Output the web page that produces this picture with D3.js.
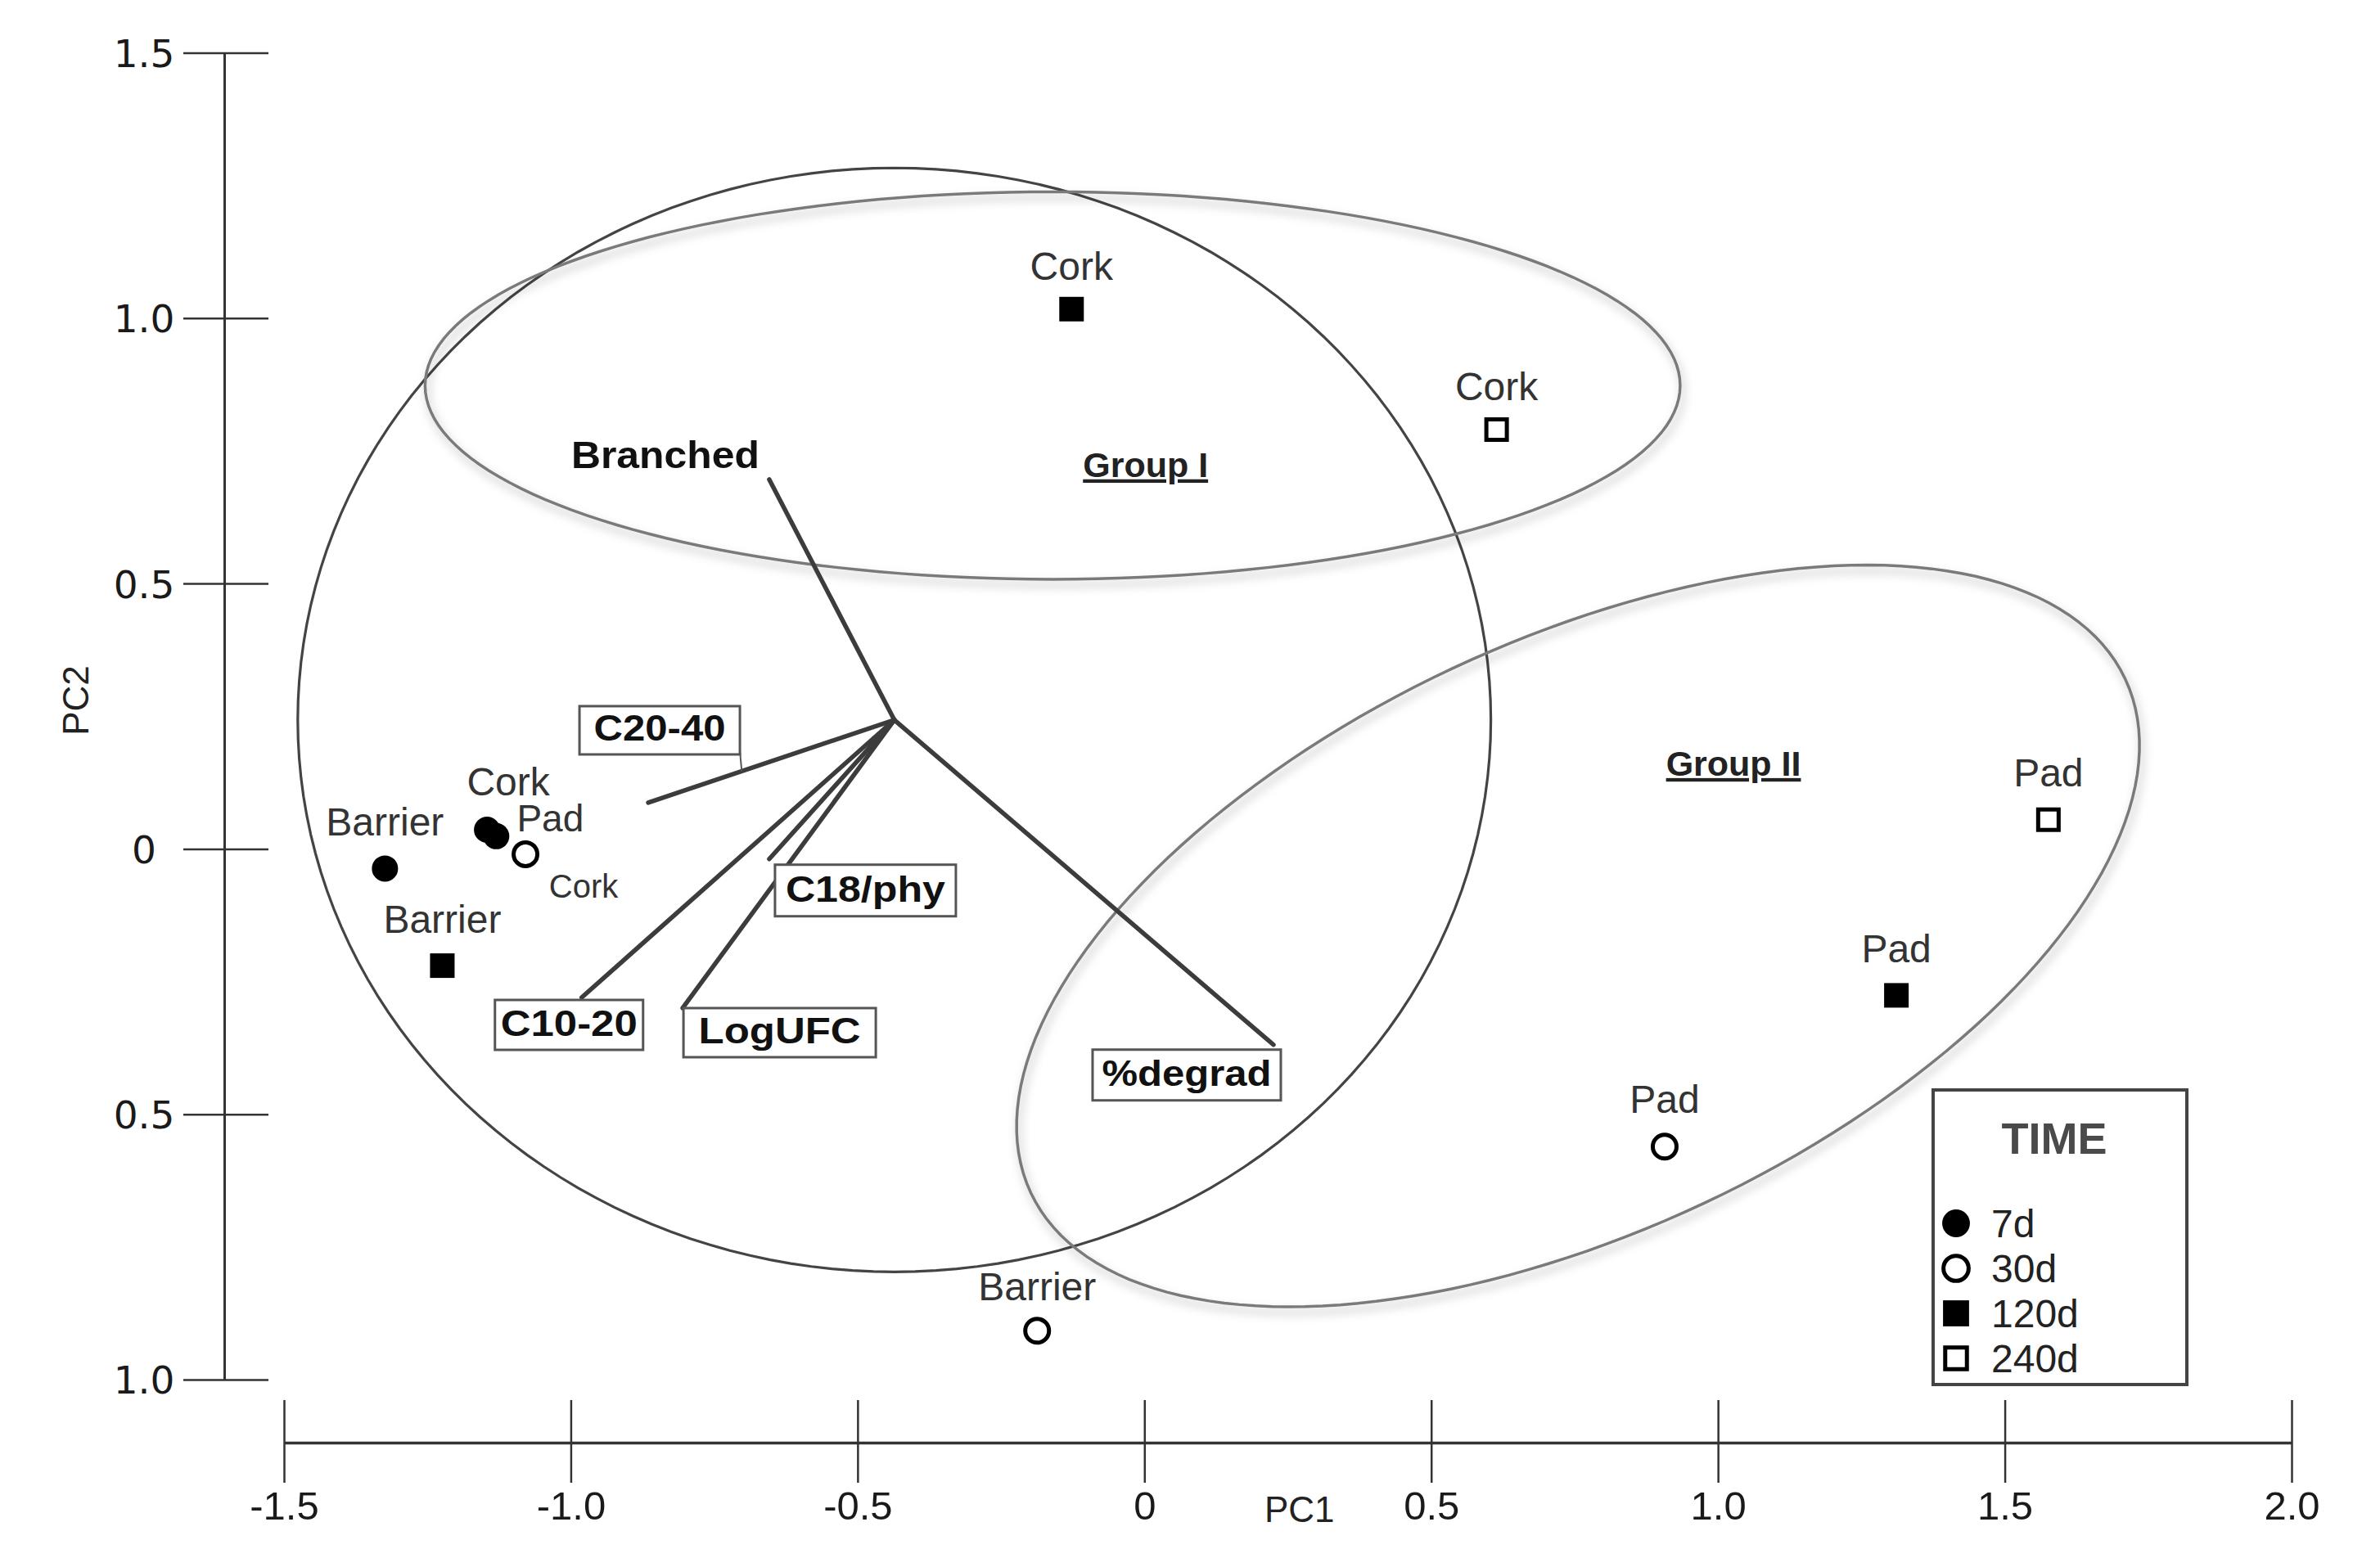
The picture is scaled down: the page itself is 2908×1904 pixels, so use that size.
<!DOCTYPE html>
<html><head><meta charset="utf-8">
<script src="https://cdn.jsdelivr.net/npm/d3@7"></script>
<style>body{margin:0;background:#fff} svg{display:block;background:#fff}</style>
</head><body>
<svg id="chart" width="2908" height="1904"></svg>
<script>
// ---------------- data ----------------
const sampleNames = ["Cork","Cork","Barrier","Cork","Pad","Cork","Barrier","Barrier","Pad","Pad","Pad"];
const sampleTimes = ["120d","240d","7d","7d","7d","30d","120d","30d","240d","120d","30d"];
const samplePC1 = [-0.127, 0.614, -1.324, -1.146, -1.130, -1.079, -1.224, -0.187, 1.576, 1.311, 0.907];
const samplePC2 = [ 1.017, 0.790, -0.037,  0.036,  0.024, -0.010, -0.220, -0.908, 0.055, -0.276, -0.561];
const timeLevels = ["7d","30d","120d","240d"];

const loadingNames = ["Branched","C20-40","C10-20","LogUFC","C18/phy","%degrad"];
const loadingPC1 = [-0.654, -0.865, -0.981, -0.805, -0.654, 0.225];
const loadingPC2 = [ 0.696,  0.087, -0.280, -0.300, -0.019, -0.369];
const loadingOrigin = [-0.436, 0.243];

const xTickValues = [-1.5, -1, -0.5, 0, 0.5, 1, 1.5, 2];
const xTickLabels = ["-1.5","-1.0","-0.5","0","0.5","1.0","1.5","2.0"];
const yTickValues = [1.5, 1, 0.5, 0, -0.5, -1];
const yTickLabels = ["1.5","1.0","0.5","0","0.5","1.0"];

const ellipseNames = ["circle","Group I","Group II"];
const ellipseCenterPC1 = [-0.436, -0.160, 0.756];
const ellipseCenterPC2 = [ 0.243,  0.873, -0.164];
const ellipseAxisU = [[1.04, 0], [1.094, 0], [0.954, 0.484]];
const ellipseAxisV = [[0, 1.04], [0, 0.365], [0.219, -0.504]];

const groupLabels = ["Group I","Group II"];
const groupLabelPC1 = [0.002, 1.027];
const groupLabelPC2 = [0.701, 0.138];

// ---------------- layout (pixels, not data) ----------------
const sampleLabelOffset = [[0,-36],[0,-36],[0,-40],[26,-42],[66,-6],[71,53],[0,-40],[0,-37],[0,-41],[0,-40],[0,-41]];
const sampleLabelSize  = [48,48,48,48,46,40,48,48,48,48,48];
// box: [dx, dy, w, h, textWidth] relative to loading end; Branched has no box
const loadingBox = [null,[-84,-118,196,59,161],[-106,3,181,61,167],[1,0,235,60,198],[7,7,221,63,195],[-221,6,230,62,207]];

// ---------------- chart ----------------
const W = 2908, H = 1904;
const svg = d3.select("#chart");
svg.append("rect").attr("width",W).attr("height",H).attr("fill","#fff");

const defs = svg.append("defs");
const f = defs.append("filter").attr("id","shadow").attr("x","-10%").attr("y","-15%").attr("width","125%").attr("height","140%");
f.append("feDropShadow").attr("dx",3).attr("dy",7).attr("stdDeviation",6).attr("flood-color","#000").attr("flood-opacity",0.3);

const x = d3.scaleLinear().domain([-1.5, 2]).range([347, 2800]);
const y = d3.scaleLinear().domain([-1, 1.5]).range([1686, 64.5]);

// Y axis
const yAxis = d3.axisLeft(y).tickValues(yTickValues)
  .tickFormat(d => yTickLabels[yTickValues.indexOf(d)])
  .tickSizeOuter(0).tickSizeInner(0).tickPadding(0);
const gy = svg.append("g").attr("transform","translate(274,0)").call(yAxis);
gy.select(".domain").attr("stroke","#333").attr("stroke-width",3);
gy.selectAll(".tick line").attr("x1",-50).attr("x2",54).attr("stroke","#333").attr("stroke-width",2.5);
gy.selectAll(".tick text").attr("x",-98).attr("dy","0.36em").attr("text-anchor","middle")
  .style("font-family","'DejaVu Sans'").style("font-size","47px").attr("fill","#1a1a1a");

// X axis
const xAxis = d3.axisBottom(x).tickValues(xTickValues)
  .tickFormat(d => xTickLabels[xTickValues.indexOf(d)])
  .tickSizeOuter(0);
const gx = svg.append("g").attr("transform","translate(0,1763)").call(xAxis);
gx.select(".domain").attr("stroke","#333").attr("stroke-width",3.5);
gx.selectAll(".tick line").attr("y1",-52).attr("y2",49).attr("stroke","#333").attr("stroke-width",2.5);
gx.selectAll(".tick text").attr("y",94).attr("dy",0)
  .style("font-family","'Liberation Sans'").style("font-size","49px").attr("fill","#1a1a1a");

// axis titles
svg.append("text").attr("x",1545).attr("y",1860).text("PC1")
  .style("font-family","'Liberation Sans'").style("font-size","44px").attr("fill","#222");
svg.append("text").attr("transform","translate(108,856) rotate(-90)").attr("text-anchor","middle").text("PC2")
  .style("font-family","'Liberation Sans'").style("font-size","44px").attr("fill","#222");

// ellipses
const tSteps = d3.range(0, 361, 2).map(d => d * Math.PI / 180);
const ellLine = d3.line().curve(d3.curveLinearClosed);
ellipseNames.forEach((name, i) => {
  const pts = tSteps.map(t => [
    x(ellipseCenterPC1[i] + ellipseAxisU[i][0]*Math.cos(t) + ellipseAxisV[i][0]*Math.sin(t)),
    y(ellipseCenterPC2[i] + ellipseAxisU[i][1]*Math.cos(t) + ellipseAxisV[i][1]*Math.sin(t))
  ]);
  const p = svg.append("path").attr("d", ellLine(pts)).attr("fill","none");
  if (name === "circle") {
    p.attr("stroke","#444").attr("stroke-width",3.2);
  } else {
    p.attr("stroke","#7a7a7a").attr("stroke-width",3.5).attr("filter","url(#shadow)");
  }
});

// loading vectors
const ox = x(loadingOrigin[0]), oy = y(loadingOrigin[1]);
const gl = svg.append("g");
loadingNames.forEach((n, i) => {
  gl.append("line").attr("x1",ox).attr("y1",oy).attr("x2",x(loadingPC1[i])).attr("y2",y(loadingPC2[i]))
    .attr("stroke","#3c3c3c").attr("stroke-width",5.5).attr("stroke-linecap","round");
});
// leader for C20-40
{
  const i = 1, b = loadingBox[i];
  const ex = x(loadingPC1[i]), ey = y(loadingPC2[i]);
  const bx = ex + b[0] + b[2], by = ey + b[1] + b[3] - 4;
  gl.append("line").attr("x1",bx).attr("y1",by).attr("x2",ex + (ox-ex)*0.38).attr("y2",ey + (oy-ey)*0.38)
    .attr("stroke","#555").attr("stroke-width",2);
}
// label boxes
loadingNames.forEach((n, i) => {
  const ex = x(loadingPC1[i]), ey = y(loadingPC2[i]);
  const b = loadingBox[i];
  if (!b) {
    svg.append("text").attr("x",ex-12).attr("y",ey-14).attr("text-anchor","end").text(n)
      .attr("textLength",230).attr("lengthAdjust","spacingAndGlyphs")
      .style("font-family","'Liberation Sans'").style("font-weight","bold").style("font-size","47px").attr("fill","#111");
    return;
  }
  svg.append("rect").attr("x",ex+b[0]).attr("y",ey+b[1]).attr("width",b[2]).attr("height",b[3])
    .attr("fill","#fff").attr("stroke","#555").attr("stroke-width",3);
  svg.append("text").attr("x",ex+b[0]+b[2]/2).attr("y",ey+b[1]+b[3]*0.72).attr("text-anchor","middle").text(n)
    .attr("textLength",b[4]).attr("lengthAdjust","spacingAndGlyphs")
    .style("font-family","'Liberation Sans'").style("font-weight","bold").style("font-size","44px").attr("fill","#111");
});

// group labels
groupLabels.forEach((g, i) => {
  svg.append("text").attr("x",x(groupLabelPC1[i])).attr("y",y(groupLabelPC2[i])).attr("text-anchor","middle").text(g)
    .style("font-family","'Liberation Sans'").style("font-weight","bold").style("font-size","43px")
    .style("text-decoration","underline").attr("fill","#222");
});

// markers
function drawMarker(g, t, cx, cy, big) {
  const s = big ? 1.06 : 1;
  if (t === "7d") g.append("circle").attr("cx",cx).attr("cy",cy).attr("r",16*s).attr("fill","#000");
  else if (t === "30d") g.append("circle").attr("cx",cx).attr("cy",cy).attr("r",14.5*s).attr("fill","#fff").attr("stroke","#000").attr("stroke-width",5);
  else if (t === "120d") g.append("rect").attr("x",cx-15*s).attr("y",cy-15*s).attr("width",30*s).attr("height",30*s).attr("fill","#000");
  else g.append("rect").attr("x",cx-12.5*s).attr("y",cy-12.5*s).attr("width",25*s).attr("height",25*s).attr("fill","#fff").attr("stroke","#000").attr("stroke-width",5);
}
const gm = svg.append("g");
sampleNames.forEach((n, i) => {
  const cx = x(samplePC1[i]), cy = y(samplePC2[i]);
  gm.append("text").attr("x",cx+sampleLabelOffset[i][0]).attr("y",cy+sampleLabelOffset[i][1]).attr("text-anchor","middle").text(n)
    .style("font-family","'Liberation Sans'").style("font-size",sampleLabelSize[i]+"px").attr("fill","#333");
});
sampleNames.forEach((n, i) => {
  drawMarker(gm, sampleTimes[i], x(samplePC1[i]), y(samplePC2[i]), false);
});

// legend
const lg = svg.append("g");
lg.append("rect").attr("x",2362).attr("y",1332).attr("width",310).attr("height",360)
  .attr("fill","#fff").attr("stroke","#444").attr("stroke-width",4);
lg.append("text").attr("x",2510).attr("y",1410).attr("text-anchor","middle").text("TIME")
  .style("font-family","'Liberation Sans'").style("font-weight","bold").style("font-size","54px").attr("fill","#4a4a4a");
timeLevels.forEach((t, i) => {
  const cy = 1495 + i*55;
  drawMarker(lg, t, 2390, cy, true);
  lg.append("text").attr("x",2433).attr("y",cy+17).text(t)
    .style("font-family","'Liberation Sans'").style("font-size","48px").attr("fill","#222");
});
</script>
</body></html>
